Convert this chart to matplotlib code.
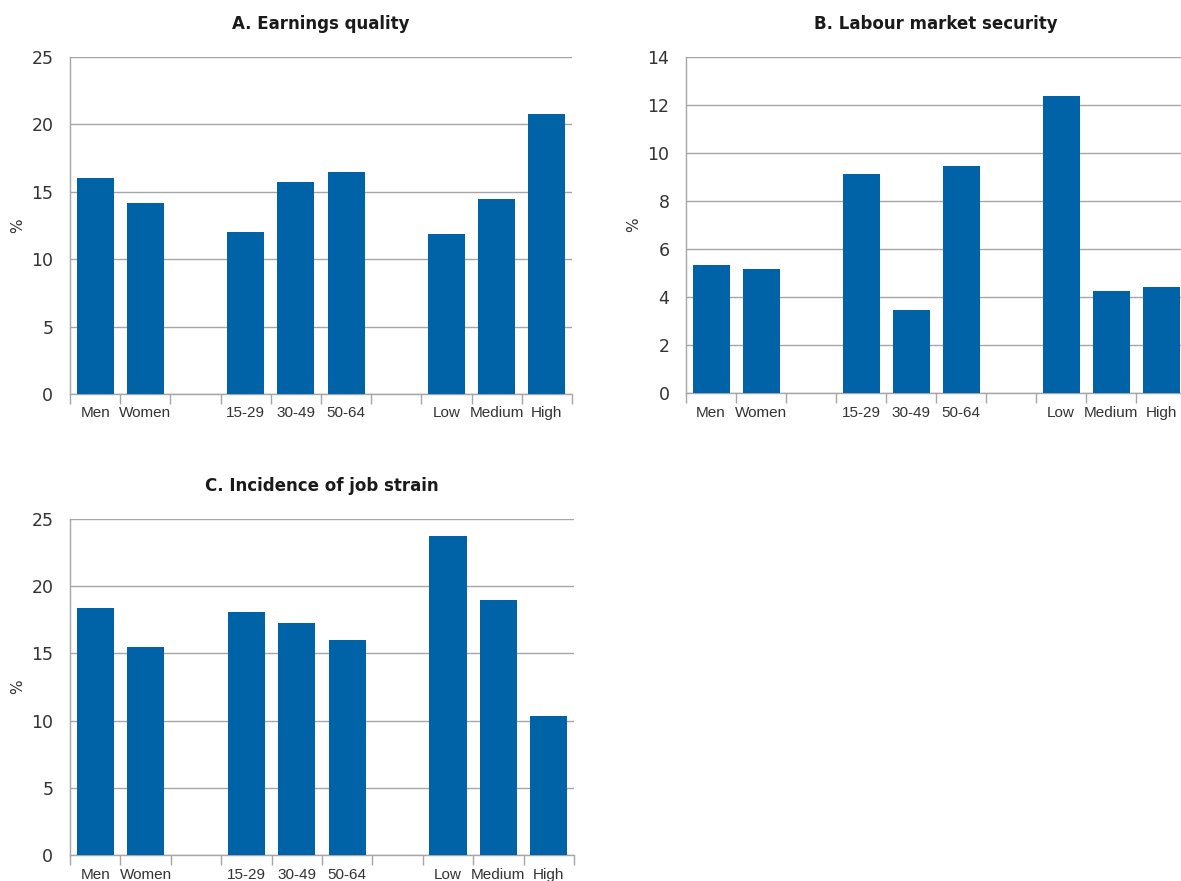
import matplotlib
matplotlib.use('Agg')
import matplotlib.pyplot as plt
import numpy as np

categories = ['Men', 'Women', '', '15-29', '30-49', '50-64', '', 'Low', 'Medium', 'High']
earnings = [16.0, 14.2, np.nan, 12.0, 15.7, 16.5, np.nan, 11.9, 14.5, 20.8]
security = [5.33, 5.15, np.nan, 9.12, 3.46, 9.46, np.nan, 12.37, 4.25, 4.4]
strain = [18.4, 15.45, np.nan, 18.05, 17.25, 16.0, np.nan, 23.75, 19.0, 10.35]

blue = '#0062A7'
grey = '#A6A6A6'
narrow = ['Liberation Sans Narrow', 'Liberation Sans']

fig = plt.figure(figsize=(11.81, 8.81), dpi=100)

def panel(rect, values, title, ymax, ystep):
    ax = fig.add_axes(rect)
    x = np.arange(len(categories))
    ax.bar(x, values, width=0.74, color=blue, zorder=3)
    ax.set_xlim(-0.5, len(categories) - 0.5)
    ax.set_ylim(0, ymax)
    ax.set_yticks(np.arange(0, ymax + 0.1, ystep))
    ax.yaxis.grid(True, color=grey, linewidth=1, zorder=0)
    ax.set_xticks(x)
    ax.set_xticklabels(categories, family=narrow, fontsize=11, color='#333333')
    ax.set_xticks(np.arange(-0.5, len(categories)), minor=True)
    ax.tick_params(axis='x', which='major', length=0, pad=9)
    ax.tick_params(axis='x', which='minor', length=7, color=grey, width=1)
    ax.tick_params(axis='y', length=0, labelsize=12.5, pad=12, labelcolor='#333333')
    for s in ['top', 'right']:
        ax.spines[s].set_visible(False)
    for s in ['left', 'bottom']:
        ax.spines[s].set_color(grey)
        ax.spines[s].set_linewidth(1)
    ax.set_ylabel('%', fontsize=11, color='#333333')
    ax.yaxis.set_label_coords(-0.09, 0.5)
    ax.set_title(title, fontsize=12, fontweight='bold', pad=20, color='#1a1a1a')
    return ax

panel([0.0593, 0.5528, 0.425, 0.3825], earnings, 'A. Earnings quality', 25, 5)
panel([0.5809, 0.5539, 0.4234, 0.3814], security, 'B. Labour market security', 14, 2)
panel([0.0593, 0.0295, 0.4267, 0.3814], strain, 'C. Incidence of job strain', 25, 5)

fig.savefig('out.png', dpi=100)
